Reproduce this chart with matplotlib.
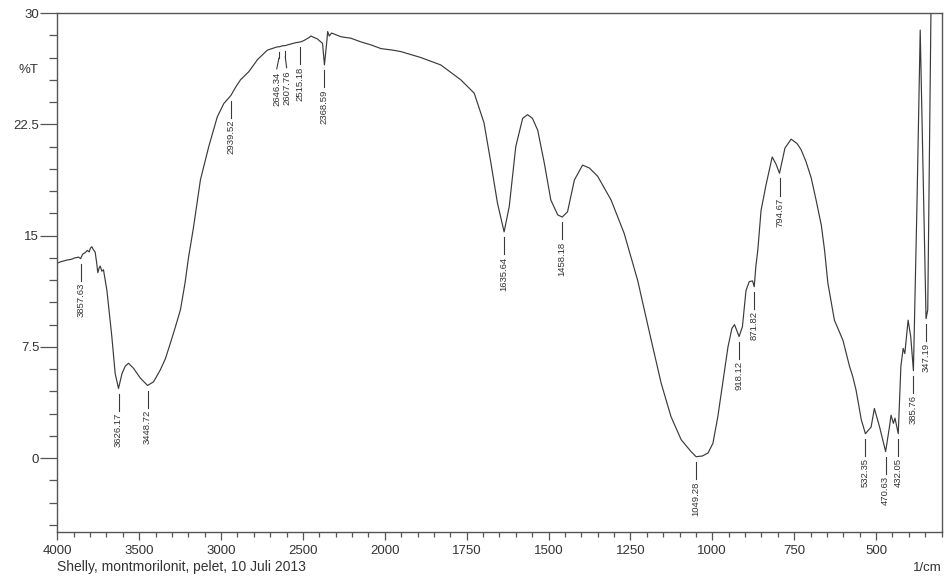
import numpy as np
import matplotlib
matplotlib.use("Agg")
import matplotlib.pyplot as plt
from matplotlib.ticker import FixedLocator, FixedFormatter, NullFormatter
from matplotlib.transforms import offset_copy

plt.rcParams['font.family'] = ['Liberation Sans', 'DejaVu Sans']

# spectrum (wavenumber in 1/cm, %T)
wavenumber = [4000, 3975, 3942, 3915, 3892, 3870, 3857.63, 3845, 3830, 3816, 3805, 3798,
              3789, 3780, 3769, 3760, 3752.5, 3745, 3738, 3728, 3718, 3697, 3667, 3646.5,
              3626.17, 3605, 3585, 3565, 3534, 3493, 3448.72, 3412, 3371, 3340, 3309.5,
              3280, 3248, 3220, 3199, 3169, 3126, 3075, 3023, 2983, 2939.52, 2911, 2881,
              2830, 2778, 2717, 2656, 2646.34, 2620, 2607.76, 2594, 2544, 2515.18, 2493,
              2462, 2452, 2411, 2380, 2368.59, 2353, 2349, 2339, 2325, 2268, 2207, 2145,
              2084, 2023, 1976, 1951, 1890, 1829, 1768, 1727, 1697, 1676, 1656, 1635.64,
              1620, 1600, 1579, 1564, 1549, 1533, 1513, 1493, 1472, 1458.18, 1442, 1421,
              1396, 1375, 1350, 1309, 1269, 1228, 1190, 1156, 1126, 1095, 1065, 1049.28,
              1030, 1013, 998, 983, 968, 952, 940, 932, 918.12, 908, 897, 887, 877, 871.82,
              867, 861, 851, 836, 817, 805, 794.67, 778, 759, 741, 729, 714, 698, 683, 667,
              657, 647, 627, 601, 581, 571, 561, 545, 532.35, 515, 505, 489, 470.63, 459,
              454, 447, 442, 432.05, 424, 417, 412, 402, 394, 385.76, 375, 365, 356,
              347.19, 342, 332, 300]
transmittance = [13.15, 13.25, 13.35, 13.4, 13.5, 13.55, 13.45, 13.75, 13.85, 14.0, 13.9, 14.15,
                 14.25, 14.05, 13.9, 13.2, 12.5, 12.8, 12.95, 12.6, 12.7, 11.3, 8.2, 5.7,
                 4.7, 5.7, 6.2, 6.4, 6.05, 5.4, 4.9, 5.15, 5.95, 6.7, 7.75,
                 8.8, 10.0, 11.8, 13.5, 15.5, 18.75, 21.0, 23.0, 23.9, 24.45, 25.0, 25.5,
                 26.05, 26.85, 27.5, 27.72, 27.72, 27.8, 27.8, 27.85, 28.0, 28.05, 28.15,
                 28.35, 28.45, 28.25, 27.95, 26.5, 28.2, 28.75, 28.45, 28.65, 28.4, 28.3, 28.05,
                 27.85, 27.6, 27.5, 27.4, 27.0, 26.5, 25.5, 24.6, 22.6, 19.9, 17.2, 15.25,
                 16.95, 21.0, 22.9, 23.15, 22.9, 22.1, 19.9, 17.4, 16.4, 16.25, 16.6, 18.75,
                 19.75, 19.55, 19.0, 17.4, 15.15, 12.0, 8.3, 5.05, 2.8, 1.25, 0.45, 0.1,
                 0.15, 0.35, 1.0, 2.8, 5.05, 7.5, 8.75, 9.0, 8.2, 8.85, 11.3, 11.9, 11.95, 11.55,
                 12.9, 14.0, 16.7, 18.4, 20.3, 19.8, 19.2, 20.9, 21.5, 21.2, 20.8, 20.0, 18.9, 17.4, 15.7,
                 14.0, 11.8, 9.3, 7.95, 6.2, 5.5, 4.6, 2.6, 1.65, 2.1, 3.35, 2.1, 0.45, 2.1,
                 2.9, 2.35, 2.7, 1.65, 6.2, 7.4, 7.05, 9.3, 8.2, 5.9, 17.0, 28.85, 19.0,
                 9.4, 10.0, 30.5, 36]

peak_wn = [3857.63, 3626.17, 3448.72, 2939.52, 2646.34, 2607.76, 2515.18, 2368.59,
           1635.64, 1458.18, 1049.28, 918.12, 871.82, 794.67, 532.35, 470.63, 432.05,
           385.76, 347.19]
peak_labels = ["3857.63", "3626.17", "3448.72", "2939.52", "2646.34", "2607.76", "2515.18",
               "2368.59", "1635.64", "1458.18", "1049.28", "918.12", "871.82", "794.67",
               "532.35", "470.63", "432.05", "385.76", "347.19"]

x_major = [4000, 3500, 3000, 2500, 2000, 1750, 1500, 1250, 1000, 750, 500]
y_major = [0, 7.5, 15, 22.5, 30]
y_major_labels = ["0", "7.5", "15", "22.5", "30"]

# sideways nudge (points) for crowded peak labels, leader line bends
label_nudge = {"2646.34": -1.6, "2607.76": 1.0}


# the recorder halves the wavenumber per cm below 2000
def fwd(w):
    w = np.asarray(w, dtype=float)
    return np.where(w >= 2000, w, 2 * w - 2000)


def inv(u):
    u = np.asarray(u, dtype=float)
    return np.where(u >= 2000, u, (u + 2000) / 2)


W, H = 946, 577
fig = plt.figure(figsize=(W / 100, H / 100), dpi=100)
left, right, top, bottom = 57.3, 941.5, 13, 532.4
ax = fig.add_axes([left / W, 1 - bottom / H, (right - left) / W, (bottom - top) / H])

ax.set_xscale('function', functions=(fwd, inv))
ax.set_xlim(4000, 300)
ax.set_ylim(-5, 30)

line_c = '#3a3a3a'
ax.plot(wavenumber, transmittance, color=line_c, lw=0.85)

# peak markers
wn_inc = np.array(wavenumber)[::-1]
t_inc = np.array(transmittance)[::-1]
for w, lab in zip(peak_wn, peak_labels):
    t = np.interp(w, wn_inc, t_inc)
    dx = label_nudge.get(lab, 0.0)
    if dx:
        tr = offset_copy(ax.transData, fig=fig, x=dx, y=0, units='points')
        ax.plot([w, w], [t - 0.35, t - 0.75], color=line_c, lw=0.8)
        ax.annotate("", xy=(w, t - 0.75), xytext=(w, t - 1.5), textcoords=tr,
                    arrowprops=dict(arrowstyle='-', color=line_c, lw=0.8,
                                    shrinkA=0, shrinkB=0))
    else:
        tr = ax.transData
        ax.plot([w, w], [t - 0.35, t - 1.5], color=line_c, lw=0.8)
    ax.text(w, t - 1.65, lab, rotation=90, ha='center', va='top', transform=tr,
            fontsize=6.8, color='#333333')

# axes styling
for s in ax.spines.values():
    s.set_color('#555555')
    s.set_linewidth(1.0)

ax.xaxis.set_major_locator(FixedLocator(x_major))
ax.xaxis.set_major_formatter(FixedFormatter([str(v) for v in x_major]))
x_minor = list(range(3900, 2000, -100)) + list(range(1950, 299, -50))
ax.xaxis.set_minor_locator(FixedLocator(x_minor))
ax.xaxis.set_minor_formatter(NullFormatter())

ax.yaxis.set_major_locator(FixedLocator(y_major))
ax.yaxis.set_major_formatter(FixedFormatter(y_major_labels))
ax.yaxis.set_minor_locator(FixedLocator(list(np.arange(-4.5, 30, 1.5))))

ax.tick_params(axis='x', which='major', direction='out', length=6, width=0.9,
               color='#555555', labelsize=9.5, labelcolor='#333333', pad=3)
ax.tick_params(axis='x', which='minor', direction='out', length=3.5, width=0.9, color='#555555')
ax.tick_params(axis='y', which='major', direction='out', length=12, width=0.9,
               color='#555555', labelsize=9.5, labelcolor='#333333', pad=1)
ax.tick_params(axis='y', which='minor', direction='out', length=6, width=0.9, color='#555555')

fig.text(28 / W, 1 - 70 / H, "%T", ha='center', va='center', fontsize=9.5, color='#333333')
fig.text(left / W, 1 - 567 / H, "Shelly, montmorilonit, pelet, 10 Juli 2013",
         ha='left', va='center', fontsize=10, color='#333333')
fig.text(right / W, 1 - 568 / H, "1/cm", ha='right', va='center', fontsize=9.5, color='#333333')

fig.savefig("out.png", dpi=100, facecolor='white')
